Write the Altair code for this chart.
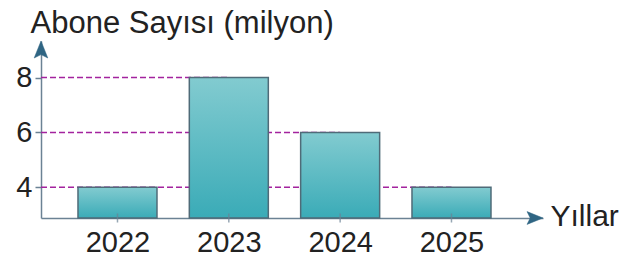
import altair as alt
import pandas as pd

years = [2022, 2023, 2024, 2025]
values = [4, 8, 6, 4]
y_ticks = [4, 6, 8]

x_domain = [2021.313, 2025.822]
y_domain = [2.881, 9.334]

FONT = "Liberation Sans"
AXIS_COL = "#6b8294"
ARROW_COL = "#2f6583"
TEXT_COL = "#222222"

bars_df = pd.DataFrame({"year": years, "value": values})
rules_df = pd.DataFrame({
    "value": y_ticks,
    "start": [x_domain[0]] * len(y_ticks),
    "end": [max(y for y, v in zip(years, values) if v == t) for t in y_ticks],
})
arrows_df = pd.DataFrame({
    "x": [x_domain[0], x_domain[1]],
    "y": [y_domain[1], y_domain[0]],
    "dir": ["up", "right"],
})

xs = alt.Scale(domain=x_domain, nice=False, zero=False, padding=0)
ys = alt.Scale(domain=y_domain, nice=False, zero=False, padding=0)

x_axis = alt.Axis(
    values=years, format="d", ticks=False, tickSize=0, labelPadding=10,
    labelFontSize=29, labelFont=FONT, labelColor=TEXT_COL, labelOverlap=False,
    labelFlush=False, grid=False, domainColor=AXIS_COL, domainWidth=1.5,
    title="Yıllar", titleX=509, titleY=7, titleAlign="left",
    titleBaseline="alphabetic", titleFontSize=30, titleFont=FONT,
    titleFontWeight="normal", titleColor=TEXT_COL)
y_axis = alt.Axis(
    values=y_ticks, tickSize=6, tickColor=AXIS_COL, tickWidth=1.5,
    labelPadding=3, labelFontSize=29, labelFont=FONT, labelColor=TEXT_COL,
    labelFlush=False, grid=False, domainColor=AXIS_COL, domainWidth=1.5,
    title="Abone Sayısı (milyon)", titleAngle=0, titleX=-11, titleY=-9,
    titleAlign="left", titleBaseline="alphabetic", titleFontSize=31,
    titleFont=FONT, titleFontWeight="normal", titleColor=TEXT_COL)

grad = alt.Gradient(
    gradient="linear",
    stops=[alt.GradientStop(color="#82cbd0", offset=0),
           alt.GradientStop(color="#3aabb7", offset=1)],
    x1=0, x2=0, y1=0, y2=1,
)

rules = alt.Chart(rules_df).mark_rule(
    color="#a3239e", strokeWidth=1.5, strokeDash=[6, 3]
).encode(
    x=alt.X("start:Q", scale=xs, axis=x_axis),
    x2="end:Q",
    y=alt.Y("value:Q", scale=ys, axis=y_axis),
)

bars = alt.Chart(bars_df).mark_bar(
    size=79, fill=grad, stroke="#4f6b78", strokeWidth=1.5
).encode(
    x=alt.X("year:Q", scale=xs, axis=x_axis),
    y=alt.Y("value:Q", scale=ys, axis=y_axis),
    y2=alt.datum(y_domain[0]),
)

xticks = alt.Chart(bars_df).mark_tick(
    orient="vertical", size=9, thickness=1.5, color=AXIS_COL
).encode(
    x=alt.X("year:Q", scale=xs, axis=x_axis),
    y=alt.datum(y_domain[0]),
)

up_arrow = alt.Chart(arrows_df[arrows_df["dir"] == "up"]).mark_point(
    shape="M0,0L0.4,1L0,0.8L-0.4,1Z", size=1156, filled=True,
    fill=ARROW_COL, stroke=ARROW_COL, strokeWidth=0.5, opacity=1
).encode(
    x=alt.X("x:Q", scale=xs, axis=x_axis),
    y=alt.Y("y:Q", scale=ys, axis=y_axis),
)

right_arrow = alt.Chart(arrows_df[arrows_df["dir"] == "right"]).mark_point(
    shape="M0,0L-1,-0.4L-0.8,0L-1,0.4Z", size=1024, filled=True,
    fill=ARROW_COL, stroke=ARROW_COL, strokeWidth=0.5, opacity=1
).encode(
    x=alt.X("x:Q", scale=xs, axis=x_axis),
    y=alt.Y("y:Q", scale=ys, axis=y_axis),
)

chart = alt.layer(rules, bars, xticks, up_arrow, right_arrow).properties(
    width=502, height=177,
    autosize=alt.AutoSizeParams(type="none"),
    padding={"left": 33, "top": 33, "right": 87, "bottom": 40},
).configure(background="white").configure_view(stroke=None)

chart.save("out.html", embed_options={"renderer": "svg", "actions": False})
